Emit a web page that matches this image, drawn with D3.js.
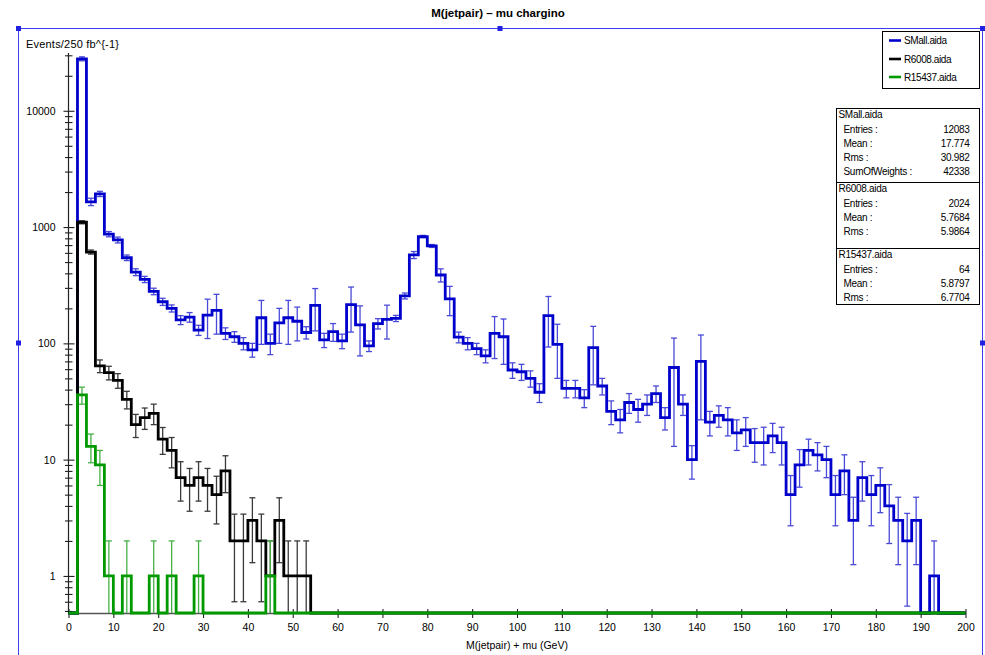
<!DOCTYPE html>
<html>
<head>
<meta charset="utf-8">
<script src="https://cdn.jsdelivr.net/npm/d3@7"></script>
<style>
  body { margin: 0; background: #fff; }
  svg { display: block; font-family: "Liberation Sans", Arial, Helvetica, sans-serif; }
</style>
</head>
<body>
<svg id="chart" width="985" height="655"></svg>
<script>
// ---- histogram data: 2 GeV bins from 0 to 200 GeV ----
const binLow = [0,2,4,6,8,10,12,14,16,18,20,22,24,26,28,30,32,34,36,38,40,42,44,46,48,
  50,52,54,56,58,60,62,64,66,68,70,72,74,76,78,80,82,84,86,88,90,92,94,96,98,
  100,102,104,106,108,110,112,114,116,118,120,122,124,126,128,130,132,134,136,138,
  140,142,144,146,148,150,152,154,156,158,160,162,164,166,168,170,172,174,176,178,
  180,182,184,186,188,190,192,194,196,198];
const binWidth = 2;

const smallValues = [0,28000,1650,1930,870,775,545,410,355,280,228,200,159,168,130,175,192,122,114,100,
  88,166,100,150,166,155,124,212,107,126,105,215,144,95,148,161,164,256,576,828,
  688,387,241,113,100,90,78,122,114,59,57,50,38,173,98,41,41,34,92,43,
  26,22,31,27,30,37,23,62,30,10,70,21,24,22,17,18,14,14,16,14,
  5,9,12,11,10,5,8,3,7,5,6,4,3,2,3,0,1,0,0,0];
const smallErrors = [0,1100,120,100,45,45,30,28,22,18,16,14,14,16,13,65,72,14,12,12,
  12,68,20,50,68,50,15,84,15,22,15,90,66,10,15,52,10,15,40,20,
  20,50,68,12,12,10,10,48,48,9,9,8,7,80,48,7,7,6,48,7,
  6,5,6,6,6,6,5,49,6,3.2,48,5,5,6,5,5,4.5,5,4.5,5,
  2.3,3.2,3,3,3,2.3,3,1.75,2.6,2.3,2.5,2.1,1.75,1.45,1.75,0,1,0,0,0];

const recoValues = [0,1100,610,64,56,48,33,20,23,25,15,12,7,6,7,6,5,8,2,2,
  3,2,1,3,1,1,1,0,0,0,0,0,0,0,0,0,0,0,0,0,
  0,0,0,0,0,0,0,0,0,0,0,0,0,0,0,0,0,0,0,0,
  0,0,0,0,0,0,0,0,0,0,0,0,0,0,0,0,0,0,0,0,
  0,0,0,0,0,0,0,0,0,0,0,0,0,0,0,0,0,0,0,0];
const recoErrors = [0,33.2,24.7,8,7.5,6.9,5.7,4.5,4.8,5,3.9,3.5,2.6,2.4,2.6,2.4,2.2,2.8,1.4,1.4,
  1.7,1.4,1,1.7,1,1,1,0,0,0,0,0,0,0,0,0,0,0,0,0,
  0,0,0,0,0,0,0,0,0,0,0,0,0,0,0,0,0,0,0,0,
  0,0,0,0,0,0,0,0,0,0,0,0,0,0,0,0,0,0,0,0,
  0,0,0,0,0,0,0,0,0,0,0,0,0,0,0,0,0,0,0,0];

const r15437Values = [0,36,13,9,1,0,1,0,0,1,0,1,0,0,1,0,0,0,0,0,
  0,0,1,0,0,0,0,0,0,0,0,0,0,0,0,0,0,0,0,0,
  0,0,0,0,0,0,0,0,0,0,0,0,0,0,0,0,0,0,0,0,
  0,0,0,0,0,0,0,0,0,0,0,0,0,0,0,0,0,0,0,0,
  0,0,0,0,0,0,0,0,0,0,0,0,0,0,0,0,0,0,0,0];
const r15437Errors = [0,6,3.6,3,1,0,1,0,0,1,0,1,0,0,1,0,0,0,0,0,
  0,0,1,0,0,0,0,0,0,0,0,0,0,0,0,0,0,0,0,0,
  0,0,0,0,0,0,0,0,0,0,0,0,0,0,0,0,0,0,0,0,
  0,0,0,0,0,0,0,0,0,0,0,0,0,0,0,0,0,0,0,0,
  0,0,0,0,0,0,0,0,0,0,0,0,0,0,0,0,0,0,0,0];

const seriesNames = ["SMall.aida", "R6008.aida", "R15437.aida"];
const seriesColors = ["#0000cc", "#000000", "#009a00"];
const errorColors = ["#4a4ad8", "#3a3a3a", "#45b045"];

const xTickValues = [0,10,20,30,40,50,60,70,80,90,100,110,120,130,140,150,160,170,180,190,200];
const yMajorTicks = [1, 10, 100, 1000, 10000];
const yTickLabels = ["1", "10", "100", "1000", "10000"];

const statsBlocks = [
  { name: "SMall.aida", rows: [["Entries :", "12083"], ["Mean :", "17.774"], ["Rms :", "30.982"], ["SumOfWeights :", "42338"]] },
  { name: "R6008.aida", rows: [["Entries :", "2024"], ["Mean :", "5.7684"], ["Rms :", "5.9864"]] },
  { name: "R15437.aida", rows: [["Entries :", "64"], ["Mean :", "5.8797"], ["Rms :", "6.7704"]] }
];

// ---- layout ----
const svg = d3.select("#chart");
const plot = { left: 68.5, right: 965.5, top: 53, bottom: 613 };

const x = d3.scaleLinear().domain([0, 200]).range([plot.left, plot.right]);
const y = d3.scaleLog().domain([0.48, 31400]).range([plot.bottom, plot.top]).clamp(true);

// outer selection frame with handles
const frameColor = "#3c3cf0";
svg.append("rect")
  .attr("x", 18.5).attr("y", 28.5).attr("width", 964).attr("height", 640)
  .attr("fill", "none").attr("stroke", frameColor).attr("stroke-width", 1);
[[18.5, 28.5], [500, 28.5], [982.5, 28.5], [18.5, 343], [982.5, 343]].forEach(([hx, hy]) => {
  svg.append("rect").attr("x", hx - 2.5).attr("y", hy - 2.5).attr("width", 5).attr("height", 5)
    .attr("fill", "#2020e0");
});

// title
svg.append("text")
  .attr("x", 498).attr("y", 17)
  .attr("text-anchor", "middle")
  .attr("font-size", 11.5).attr("font-weight", "bold")
  .text("M(jetpair) – mu chargino");

// y axis title
svg.append("text")
  .attr("x", 26).attr("y", 48)
  .attr("font-size", 11)
  .attr("letter-spacing", 0.2)
  .text("Events/250 fb^{-1}");

// ---- axes ----
const axisColor = "#222";

// y axis: major ticks with labels
const yAxisMajor = d3.axisLeft(y).tickValues(yMajorTicks)
  .tickFormat((d, i) => yTickLabels[i]).tickSize(0).tickPadding(0);
const gyMajor = svg.append("g").attr("transform", `translate(${plot.left},0)`).call(yAxisMajor);
gyMajor.select(".domain").remove();
gyMajor.selectAll(".tick text").attr("x", -13).attr("font-size", 10.5).attr("fill", "#000")
  .attr("font-family", "Liberation Sans, Arial, sans-serif");
gyMajor.selectAll(".tick line").attr("x1", -5).attr("x2", 6).attr("stroke", axisColor).attr("stroke-width", 1.1);

// y axis: minor ticks 2..9 in each decade
const yMinorTicks = [];
[0.1, 1, 10, 100, 1000, 10000].forEach(dec => {
  for (let m = 2; m <= 9; m++) {
    const v = m * dec;
    if (v >= 0.48 && v <= 31400) yMinorTicks.push(v);
  }
});
const yAxisMinor = d3.axisLeft(y).tickValues(yMinorTicks).tickFormat("").tickSize(0);
const gyMinor = svg.append("g").attr("transform", `translate(${plot.left},0)`).call(yAxisMinor);
gyMinor.select(".domain").remove();
gyMinor.selectAll(".tick line").attr("x1", -3.5).attr("x2", 4).attr("stroke", axisColor).attr("stroke-width", 1.1);

// y axis line
svg.append("line")
  .attr("x1", plot.left).attr("x2", plot.left)
  .attr("y1", plot.top).attr("y2", plot.bottom)
  .attr("stroke", axisColor).attr("stroke-width", 1.2);

// x axis
const xAxis = d3.axisBottom(x).tickValues(xTickValues).tickSize(0).tickPadding(0);
const gx = svg.append("g").attr("transform", `translate(0,${plot.bottom})`).call(xAxis);
gx.select(".domain").attr("stroke", "#555").attr("stroke-width", 1.5);
gx.selectAll(".tick line").attr("y1", -4).attr("y2", 5).attr("stroke", axisColor).attr("stroke-width", 1.1);
gx.selectAll(".tick text").attr("y", 11).attr("font-size", 10.5).attr("fill", "#000")
  .attr("font-family", "Liberation Sans, Arial, sans-serif");

// x axis title
svg.append("text")
  .attr("x", (plot.left + plot.right) / 2).attr("y", 649)
  .attr("text-anchor", "middle")
  .attr("font-size", 10.5)
  .text("M(jetpair) + mu (GeV)");

// ---- histograms ----
const lineGen = d3.line();
function stepPoints(values) {
  const pts = [];
  values.forEach((v, i) => {
    const yy = v > 0 ? y(v) : plot.bottom;
    pts.push([x(binLow[i]), yy], [x(binLow[i] + binWidth), yy]);
  });
  return pts;
}

function drawErrors(values, errors, color) {
  const g = svg.append("g").attr("stroke", color).attr("stroke-width", 1.3).attr("fill", "none");
  values.forEach((v, i) => {
    const e = errors[i];
    if (!(v > 0) || !(e > 0)) return;
    const cx = x(binLow[i] + binWidth / 2);
    const yTop = y(v + e);
    const lowClipped = (v - e) <= 0.48;
    const yBot = lowClipped ? plot.bottom : y(v - e);
    g.append("line").attr("x1", cx).attr("x2", cx).attr("y1", yTop).attr("y2", yBot);
    g.append("line").attr("x1", cx - 3).attr("x2", cx + 3).attr("y1", yTop).attr("y2", yTop);
    if (!lowClipped) g.append("line").attr("x1", cx - 3).attr("x2", cx + 3).attr("y1", yBot).attr("y2", yBot);
  });
}

function drawHist(values, color) {
  svg.append("path")
    .attr("d", lineGen(stepPoints(values)))
    .attr("fill", "none").attr("stroke", color)
    .attr("stroke-width", 2.8).attr("stroke-linejoin", "miter");
}

const allValues = [smallValues, recoValues, r15437Values];
const allErrors = [smallErrors, recoErrors, r15437Errors];
allValues.forEach((vals, k) => {
  drawErrors(vals, allErrors[k], errorColors[k]);
  drawHist(vals, seriesColors[k]);
});

// ---- legend ----
const legend = svg.append("g");
legend.append("rect")
  .attr("x", 882.5).attr("y", 31.5).attr("width", 97).attr("height", 57)
  .attr("fill", "#fff").attr("stroke", "#000").attr("stroke-width", 1);
const legendY = [40.5, 59, 77];
seriesNames.forEach((name, k) => {
  legend.append("line").attr("x1", 889).attr("x2", 901)
    .attr("y1", legendY[k]).attr("y2", legendY[k])
    .attr("stroke", seriesColors[k]).attr("stroke-width", 2.6);
  legend.append("text").attr("x", 904).attr("y", legendY[k] + 3.7)
    .attr("font-size", 10).attr("letter-spacing", -0.4).text(name);
});

// ---- statistics box ----
const stats = svg.append("g");
const boxL = 836.5, boxR = 979.5;
const blockTops = [108.5, 182.5, 248.5];
const blockBottom = 304.5;
stats.append("rect")
  .attr("x", boxL).attr("y", blockTops[0]).attr("width", boxR - boxL).attr("height", blockBottom - blockTops[0])
  .attr("fill", "#fff").attr("stroke", "#000").attr("stroke-width", 1);
blockTops.slice(1).forEach(t => {
  stats.append("line").attr("x1", boxL).attr("x2", boxR).attr("y1", t).attr("y2", t)
    .attr("stroke", "#000").attr("stroke-width", 1);
});
statsBlocks.forEach((blk, b) => {
  const t0 = blockTops[b];
  stats.append("text").attr("x", boxL + 2).attr("y", t0 + 9.5)
    .attr("font-size", 10).attr("letter-spacing", -0.3).text(blk.name);
  blk.rows.forEach((row, r) => {
    const ry = t0 + 24 + r * 14.3;
    stats.append("text").attr("x", boxL + 7).attr("y", ry)
      .attr("font-size", 10).attr("letter-spacing", -0.3).text(row[0]);
    stats.append("text").attr("x", boxR - 10).attr("y", ry)
      .attr("font-size", 10).attr("letter-spacing", -0.3).attr("text-anchor", "end").text(row[1]);
  });
});
</script>
</body>
</html>
